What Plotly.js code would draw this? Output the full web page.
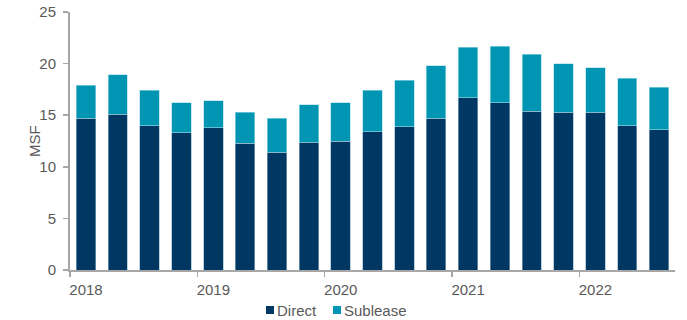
<!DOCTYPE html>
<html>
<head>
<meta charset="utf-8">
<script src="https://cdn.plot.ly/plotly-3.0.1.min.js"></script>
<style>
html,body{margin:0;padding:0;background:#fff;}
#chart{width:687px;height:320px;}
</style>
</head>
<body>
<div id="chart"></div>
<script>
// Quarters 2018 Q1 .. 2022 Q3
const quarters = ["2018 Q1","2018 Q2","2018 Q3","2018 Q4",
                  "2019 Q1","2019 Q2","2019 Q3","2019 Q4",
                  "2020 Q1","2020 Q2","2020 Q3","2020 Q4",
                  "2021 Q1","2021 Q2","2021 Q3","2021 Q4",
                  "2022 Q1","2022 Q2","2022 Q3"];
// Direct availability (MSF)
const direct   = [14.7, 15.1, 14.0, 13.3, 13.8, 12.3, 11.4, 12.4, 12.5, 13.4, 13.9, 14.7, 16.7, 16.2, 15.4, 15.3, 15.3, 14.0, 13.6];
// Sublease availability (MSF)
const sublease = [3.2, 3.8, 3.4, 2.9, 2.6, 3.0, 3.3, 3.6, 3.7, 4.0, 4.5, 5.1, 4.9, 5.5, 5.5, 4.7, 4.3, 4.6, 4.1];
const yearLabels = ["2018","2019","2020","2021","2022"];
const seriesNames = ["Direct","Sublease"];
const seriesColors = ["#003863","#0096b3"];
const yTitle = "MSF";

const xIdx = quarters.map((q, i) => i);
const yearTickPos = yearLabels.map(y => quarters.indexOf(y + " Q1") - 0.5);

const gray = "#595959";
const axisGray = "#a6a6a6";
const font = "Liberation Sans, Arial, sans-serif";

const traces = [
  {type:"bar", name:seriesNames[0], x:xIdx, y:direct, text:quarters, hoverinfo:"text+y",
   textposition:"none", showlegend:false,
   marker:{color:seriesColors[0], line:{color:"#8fb4c8", width:0.6}}},
  {type:"bar", name:seriesNames[1], x:xIdx, y:sublease, text:quarters, hoverinfo:"text+y",
   textposition:"none", showlegend:false,
   marker:{color:seriesColors[1], line:{color:"#a9dbe6", width:0.6}}}
];

// Custom legend (small square swatch right next to the text), placed below the plot
const W = 687, H = 320;
const PL = 70, PW = 605, PB = 270, PH = 258;
const px2x = p => (p - PL) / PW;
const px2y = p => (PB - p) / PH;
const legendY = 310;             // centre line of legend, px from top
const legendStarts = [266, 333]; // swatch left edges, px
const shapes = [], annotations = [];
seriesNames.forEach((nm, i) => {
  const x0 = legendStarts[i];
  shapes.push({type:"rect", xref:"paper", yref:"paper", layer:"above",
    x0:px2x(x0), x1:px2x(x0 + 8),
    y0:px2y(legendY + 4), y1:px2y(legendY - 4),
    fillcolor:seriesColors[i], line:{width:0}});
  annotations.push({xref:"paper", yref:"paper", x:px2x(x0 + 9), y:px2y(legendY),
    xanchor:"left", yanchor:"middle", showarrow:false, text:nm,
    font:{size:15, color:gray, family:font}});
});
// Y axis title
annotations.push({xref:"paper", yref:"paper", x:px2x(34), y:px2y(141),
  xanchor:"center", yanchor:"middle", showarrow:false, text:yTitle, textangle:-90,
  font:{size:15, color:gray, family:font}});

const layout = {
  width:W, height:H,
  margin:{l:70, r:12, t:12, b:50, autoexpand:false},
  paper_bgcolor:"#fff", plot_bgcolor:"#fff",
  barmode:"stack", bargap:0.39,
  font:{family:font, size:15, color:gray},
  showlegend:false,
  xaxis:{
    range:[-0.5, 18.5], tickmode:"array", tickvals:yearTickPos, ticktext:yearLabels,
    ticks:"outside", ticklen:5, tickwidth:1.5, tickcolor:axisGray,
    ticklabelshift:16, automargin:false,
    showline:true, linecolor:axisGray, linewidth:2,
    showgrid:false, zeroline:false, fixedrange:true,
    tickfont:{size:15, color:gray, family:font}
  },
  yaxis:{
    range:[0,25], dtick:5, tick0:0, automargin:false,
    ticks:"outside", ticklen:5, tickwidth:1.5, tickcolor:axisGray,
    ticklabelstandoff:4,
    showline:true, linecolor:axisGray, linewidth:2,
    showgrid:false, zeroline:false, fixedrange:true,
    tickfont:{size:15, color:gray, family:font}
  },
  shapes:shapes,
  annotations:annotations
};

Plotly.newPlot("chart", traces, layout, {displayModeBar:false, staticPlot:true});
</script>
</body>
</html>
